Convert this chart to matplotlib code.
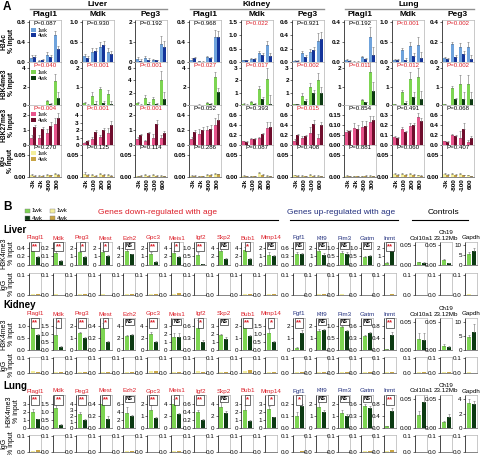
import numpy as np
import matplotlib.pyplot as plt

plt.rcParams['font.family'] = ['Liberation Sans', 'DejaVu Sans']

# ---------------- panel A data (3 genes x 4 positions per list) ----------------
a_tissues = ['Liver', 'Kidney', 'Lung']
a_genes = ['Plagl1', 'Mdk', 'Peg3']
a_marks = ['H3Ac', 'H3K4me3', 'H3K27me3', 'IgG']
plagl1_pos = ['-3k', '-2k', '-800', '300']
mdk_pos = ['-2k', '-100', '200', '800']
peg3_pos = ['-3k', '-800', '-100', '600']

liver_ac_1wk = [[0.08, 0.03, 0.15, 0.55], [0.15, 0.24, 0.38, 0.25], [0.15, 0.2, 0.12, 0.9]]
liver_ac_4wk = [[0.1, 0.04, 0.1, 0.26], [0.1, 0.28, 0.42, 0.2], [0.05, 0.1, 0.08, 0.75]]
liver_ac_err = [[0.06, 0.02, 0.05, 0.07], [0.05, 0.1, 0.12, 0.1], [0.1, 0.1, 0.05, 0.4]]
liver_k4_1wk = [[0.02, 0.02, 0.4, 2.6], [0.12, 0.5, 0.85, 0.6], [0.3, 1.2, 1.05, 4.0]]
liver_k4_4wk = [[0.01, 0.01, 0.1, 0.75], [0.02, 0.05, 0.1, 0.06], [0.02, 0.1, 0.1, 1.0]]
liver_k4_err = [[0.01, 0.01, 0.1, 0.8], [0.05, 0.2, 0.15, 0.2], [0.2, 0.4, 0.3, 1.5]]
liver_k27_1wk = [[0.5, 0.5, 0.8, 1.45], [0.3, 0.8, 1.1, 1.6], [0.4, 0.25, 0.45, 0.45]]
liver_k27_4wk = [[1.2, 1.05, 1.3, 1.85], [0.55, 1.8, 2.0, 2.7], [0.65, 0.8, 1.45, 0.8]]
liver_k27_err = [[0.15, 0.2, 0.3, 0.4], [0.1, 0.3, 0.3, 0.7], [0.15, 0.1, 0.3, 0.2]]
liver_igg_1wk = [[0.004, 0.003, 0.005, 0.006], [0.007, 0.004, 0.006, 0.004], [0.002, 0.004, 0.005, 0.003]]
liver_igg_4wk = [[0.003, 0.003, 0.004, 0.005], [0.004, 0.003, 0.004, 0.003], [0.003, 0.002, 0.003, 0.002]]
liver_igg_err = [[0.002, 0.001, 0.002, 0.003], [0.004, 0.002, 0.003, 0.002], [0.001, 0.002, 0.002, 0.001]]

kidney_ac_1wk = [[0.05, 0.02, 0.1, 0.5], [0.06, 0.1, 0.35, 0.65], [0.02, 0.13, 0.15, 0.31]]
kidney_ac_4wk = [[0.08, 0.01, 0.08, 0.5], [0.07, 0.12, 0.28, 0.22], [0.02, 0.08, 0.18, 0.35]]
kidney_ac_err = [[0.03, 0.01, 0.03, 0.15], [0.02, 0.05, 0.05, 0.15], [0.01, 0.03, 0.05, 0.12]]
kidney_k4_1wk = [[0.02, 0.05, 0.25, 3.0], [0.1, 0.25, 1.3, 2.1], [0.05, 0.75, 1.5, 2.05]]
kidney_k4_4wk = [[0.01, 0.01, 0.15, 1.4], [0.02, 0.05, 0.45, 0.12], [0.1, 0.3, 1.0, 0.95]]
kidney_k4_err = [[0.01, 0.02, 0.1, 0.6], [0.05, 0.1, 0.25, 0.9], [0.02, 0.2, 0.3, 0.6]]
kidney_k27_1wk = [[0.08, 0.15, 0.2, 0.27], [0.08, 0.12, 0.14, 0.35], [0.08, 0.15, 0.25, 0.15]]
kidney_k27_4wk = [[0.18, 0.2, 0.22, 0.34], [0.07, 0.13, 0.22, 0.37], [0.2, 0.18, 0.42, 0.4]]
kidney_k27_err = [[0.03, 0.06, 0.06, 0.1], [0.01, 0.02, 0.03, 0.12], [0.04, 0.03, 0.12, 0.08]]
kidney_igg_1wk = [[0.003, 0.002, 0.004, 0.007], [0.003, 0.002, 0.008, 0.003], [0.004, 0.003, 0.004, 0.003]]
kidney_igg_4wk = [[0.003, 0.002, 0.005, 0.006], [0.002, 0.002, 0.004, 0.002], [0.003, 0.002, 0.003, 0.002]]
kidney_igg_err = [[0.001, 0.001, 0.002, 0.002], [0.001, 0.001, 0.003, 0.001], [0.001, 0.001, 0.002, 0.001]]

lung_ac_1wk = [[0.02, 0.005, 0.05, 0.25], [0.05, 0.3, 0.4, 0.42], [0.04, 0.18, 0.15, 0.15]]
lung_ac_4wk = [[0.01, 0.003, 0.03, 0.07], [0.05, 0.06, 0.15, 0.1], [0.03, 0.05, 0.08, 0.03]]
lung_ac_err = [[0.01, 0.005, 0.01, 0.1], [0.02, 0.05, 0.1, 0.2], [0.01, 0.02, 0.04, 0.05]]
lung_k4_1wk = [[0.01, 0.01, 0.28, 1.8], [0.05, 0.72, 1.42, 1.52], [0.05, 0.95, 1.15, 1.15]]
lung_k4_4wk = [[0.005, 0.005, 0.15, 0.75], [0.01, 0.12, 0.45, 0.35], [0.01, 0.3, 0.3, 0.3]]
lung_k4_err = [[0.01, 0.01, 0.05, 0.6], [0.02, 0.1, 0.35, 0.5], [0.02, 0.1, 0.5, 0.5]]
lung_k27_1wk = [[0.065, 0.085, 0.09, 0.115], [0.08, 0.16, 0.19, 0.28], [0.08, 0.21, 0.14, 0.06]]
lung_k27_4wk = [[0.07, 0.08, 0.095, 0.125], [0.075, 0.13, 0.2, 0.24], [0.07, 0.18, 0.32, 0.15]]
lung_k27_err = [[0.01, 0.025, 0.03, 0.03], [0.01, 0.02, 0.03, 0.04], [0.01, 0.02, 0.15, 0.04]]
lung_igg_1wk = [[0.003, 0.002, 0.002, 0.003], [0.006, 0.006, 0.006, 0.004], [0.006, 0.006, 0.006, 0.004]]
lung_igg_4wk = [[0.002, 0.002, 0.003, 0.002], [0.005, 0.005, 0.005, 0.003], [0.005, 0.005, 0.004, 0.002]]
lung_igg_err = [[0.001, 0.001, 0.001, 0.001], [0.002, 0.002, 0.002, 0.001], [0.002, 0.002, 0.002, 0.001]]

liver_p = [['P=0.087', 'P=0.930', 'P=0.192'], ['P=0.040', 'P<0.001', 'P<0.001'],
           ['P=0.004', 'P<0.001', 'P<0.001'], ['P=0.270', 'P=0.125', 'P=0.114']]
kidney_p = [['P=0.968', 'P=0.022', 'P=0.921'], ['P=0.027', 'P=0.017', 'P=0.002'],
            ['P=0.052', 'P=0.393', 'P=0.015'], ['P=0.286', 'P=0.087', 'P=0.408']]
lung_p = [['P=0.192', 'P<0.001', 'P=0.002'], ['P=0.011', 'P=0.012', 'P=0.002'],
          ['P=0.854', 'P=0.491', 'P=0.068'], ['P=0.881', 'P=0.060', 'P=0.407']]

# top tick and tick step per mark (rows) and gene (cols)
liver_top = [[0.8, 1.0, 2], [4, 2, 6], [2, 4, 2], [0.05, 0.05, 0.05]]
liver_step = [[0.4, 0.5, 1], [2, 1, 2], [1, 1, 1], [0.05, 0.05, 0.05]]
kidney_top = [[0.8, 1.5, 0.6], [4, 3, 3], [0.4, 0.6, 0.6], [0.05, 0.05, 0.05]]
kidney_step = [[0.4, 0.5, 0.2], [2, 1, 1], [0.2, 0.2, 0.2], [0.05, 0.05, 0.05]]
lung_top = [[0.4, 1.0, 0.4], [2, 2, 2], [0.15, 0.3, 0.6], [0.05, 0.05, 0.05]]
lung_step = [[0.2, 0.5, 0.2], [1, 1, 1], [0.05, 0.1, 0.2], [0.05, 0.05, 0.05]]

# ---------------- panel B data (19 genes per list) ----------------
b_down = ['Plagl1', 'Mdk', 'Peg3', 'Mest', 'Ezh2', 'Gpc3', 'Meis1', 'Igf2', 'Skp2', 'Bub1', 'Mmp14']
b_up = ['Fgf1', 'Klf9', 'Pim3', 'Gatm', 'Inmt']
b_ctrl = ['Col10a1', 'Ch19\n23.12Mb', 'Gapdh']

liver_b_1wk = [0.34, 0.14, 1.5, 1.55, 3.2, 1.3, 2.8, 0.6, 3.2, 3.5, 1.2, 0.38, 1.7, 0.72, 0.48, 0.25, 0.007, 0.012, 5.5]
liver_b_4wk = [0.19, 0.05, 0.9, 1.0, 2.6, 0.4, 1.9, 0.05, 1.4, 1.3, 1.0, 0.38, 1.2, 0.65, 0.5, 1.6, 0.006, 0.004, 7.2]
liver_b_err1 = [0.02, 0.02, 0.2, 0.2, 0.8, 0.2, 0.4, 0.15, 1.2, 0.8, 0.3, 0.08, 0.3, 0.1, 0.05, 0.05, 0.001, 0.002, 1.0]
liver_b_err4 = [0.02, 0.01, 0.15, 0.2, 0.1, 0.05, 0.2, 0.02, 0.3, 0.3, 0.2, 0.05, 0.2, 0.1, 0.06, 0.2, 0.001, 0.001, 1.5]
liver_b_top = [0.4, 0.2, 2, 2, 4, 2, 4, 1.0, 4, 4, 2, 0.6, 2, 1.0, 1.0, 2, 0.05, 0.05, 10]
liver_b_step = [0.2, 0.1, 1, 1, 2, 1, 2, 0.5, 2, 2, 1, 0.3, 1, 0.5, 0.5, 1, 0.05, 0.05, 5]
liver_b_sig = ['**', '**', '*', '*', 'NS', '**', '*', '**', 'NS', '*', 'NS', 'NS', 'NS', 'NS', 'NS', '**', '', '', '']
liver_b_igg1 = [0.004, 0.003, 0.003, 0.003, 0.006, 0.003, 0.005, 0.002, 0.002, 0.003, 0.003, 0.002, 0.004, 0.003, 0.002, 0.002, 0.002, 0.002, 0.003]
liver_b_igg4 = [0.004, 0.002, 0.003, 0.002, 0.005, 0.003, 0.008, 0.002, 0.002, 0.003, 0.003, 0.002, 0.003, 0.002, 0.002, 0.003, 0.002, 0.002, 0.002]

kidney_b_1wk = [0.95, 0.95, 1.45, 0.37, 2.4, 2.7, 1.6, 0.55, 1.9, 1.9, 1.1, 0.2, 1.6, 0.95, 0.35, 0.02, 0.02, 0.008, 4.7]
kidney_b_4wk = [0.62, 0.18, 1.0, 0.13, 2.5, 1.3, 1.6, 0.2, 1.4, 1.2, 0.5, 1.4, 1.7, 0.8, 0.43, 0.5, 0.018, 0.006, 6.3]
kidney_b_err1 = [0.05, 0.5, 0.1, 0.08, 0.1, 0.3, 0.6, 0.2, 0.1, 0.1, 0.2, 0.05, 0.2, 0.05, 0.03, 0.01, 0.01, 0.003, 0.8]
kidney_b_err4 = [0.05, 0.05, 0.1, 0.03, 0.2, 0.2, 0.6, 0.05, 0.3, 0.1, 0.05, 0.3, 0.1, 0.05, 0.03, 0.1, 0.012, 0.002, 3.0]
kidney_b_top = [1.0, 1.5, 2, 0.4, 4, 4, 3, 0.6, 3, 2, 1.5, 2, 2, 1.0, 0.6, 0.8, 0.05, 0.05, 10]
kidney_b_step = [0.5, 0.5, 1, 0.2, 2, 2, 1, 0.3, 1, 1, 0.5, 1, 1, 0.5, 0.3, 0.4, 0.05, 0.05, 5]
kidney_b_sig = ['**', '*', '**', '*', 'NS', '**', 'NS', '*', 'NS', '**', '*', '**', 'NS', 'NS', 'NS', '**', '', '', '']
kidney_b_igg1 = [0.012, 0.006, 0.004, 0.01, 0.004, 0.012, 0.008, 0.012, 0.008, 0.012, 0.008, 0.006, 0.004, 0.006, 0.008, 0.006, 0.01, 0.004, 0.004]
kidney_b_igg4 = [0.01, 0.004, 0.004, 0.006, 0.004, 0.015, 0.006, 0.005, 0.006, 0.02, 0.006, 0.008, 0.006, 0.005, 0.006, 0.01, 0.006, 0.004, 0.003]

lung_b_1wk = [2.0, 1.25, 2.3, 0.4, 3.8, 1.5, 4.0, 0.4, 3.4, 2.2, 2.3, 0.1, 1.75, 1.2, 0.55, 0.05, 0.022, 0.01, 3.5]
lung_b_4wk = [1.05, 0.2, 1.3, 0.15, 3.0, 0.85, 2.3, 0.2, 2.5, 0.8, 1.3, 0.18, 1.3, 0.95, 0.5, 0.55, 0.045, 0.02, 3.4]
lung_b_err1 = [0.3, 0.25, 0.3, 0.06, 1.3, 0.4, 0.8, 0.05, 1.0, 0.6, 0.4, 0.03, 0.6, 0.3, 0.05, 0.02, 0.008, 0.003, 0.6]
lung_b_err4 = [0.1, 0.03, 0.1, 0.05, 0.2, 0.05, 0.2, 0.02, 0.3, 0.15, 0.1, 0.02, 0.2, 0.2, 0.05, 0.1, 0.015, 0.005, 0.3]
lung_b_top = [3, 1.5, 4, 0.4, 6, 2, 4, 0.6, 4, 3, 3, 0.2, 2, 2, 0.6, 0.8, 0.05, 0.05, 4]
lung_b_step = [1, 0.5, 1, 0.2, 2, 1, 2, 0.2, 2, 1, 1, 0.1, 1, 1, 0.3, 0.4, 0.05, 0.05, 2]
lung_b_sig = ['**', '**', '**', '**', 'NS', '**', '*', '**', 'NS', '*', '*', '*', 'NS', 'NS', 'NS', '**', '', '', '']
lung_b_igg1 = [0.008, 0.003, 0.003, 0.003, 0.004, 0.003, 0.004, 0.003, 0.003, 0.003, 0.003, 0.003, 0.003, 0.003, 0.004, 0.004, 0.003, 0.003, 0.003]
lung_b_igg4 = [0.01, 0.003, 0.003, 0.003, 0.004, 0.003, 0.008, 0.003, 0.002, 0.003, 0.003, 0.004, 0.003, 0.003, 0.006, 0.01, 0.003, 0.003, 0.003]

# ---------------- style ----------------
C_AC = ('#6fa3dc', '#14349a')
C_K4 = ('#7dd552', '#0c3a12')
C_K27 = ('#e8548c', '#6e0d2c')
C_IGG = ('#f4ef9c', '#c8a444')
RED = '#dc1e28'
BLUE = '#23307e'
GREY = '#b4b4b4'

W, H = 480, 455
fig = plt.figure(figsize=(W / 100, H / 100), dpi=100)


def add_ax(x, y, w, h):
    return fig.add_axes([x / W, 1 - (y + h) / H, w / W, h / H])


def ftext(x, y, s, **kw):
    fig.text(x / W, 1 - y / H, s, **kw)


def decimals(step):
    if step >= 1:
        return 0
    if abs(step * 10 - round(step * 10)) < 1e-9:
        return 1
    return 2


def style_ax(ax, top, step, headroom, bold=False, fs=4.5):
    ticks = np.arange(0, top + step / 2, step)
    d = decimals(step)
    ax.set_yticks(ticks)
    ax.set_yticklabels([f'{t:.{d}f}' for t in ticks],
                       fontweight='bold' if bold else 'normal')
    ax.set_ylim(0, top * headroom)
    ax.set_xticks([])
    ax.tick_params(axis='y', labelsize=fs, length=1.5, width=0.4, pad=0.8)
    for s in ['top', 'right']:
        ax.spines[s].set_color(GREY)
        ax.spines[s].set_linewidth(0.5)
    ax.spines['bottom'].set_color('#555555')
    ax.spines['bottom'].set_linewidth(0.5)
    ax.spines['left'].set_linewidth(0.5)


ERR = dict(fmt='none', ecolor='#707070', elinewidth=0.4, capsize=0.8, capthick=0.4)

# ---------------- panel A ----------------
a_x = [[29, 82, 135], [189, 241, 292], [344, 392, 442]]
a_rows = [(20, 42, 1.05, C_AC), (62, 43, 1.17, C_K4), (105, 40, 1.35, C_K27), (145, 32, 1.45, C_IGG)]
a_data = {
    'Liver': ([liver_ac_1wk, liver_k4_1wk, liver_k27_1wk, liver_igg_1wk],
              [liver_ac_4wk, liver_k4_4wk, liver_k27_4wk, liver_igg_4wk],
              [liver_ac_err, liver_k4_err, liver_k27_err, liver_igg_err],
              liver_p, liver_top, liver_step),
    'Kidney': ([kidney_ac_1wk, kidney_k4_1wk, kidney_k27_1wk, kidney_igg_1wk],
               [kidney_ac_4wk, kidney_k4_4wk, kidney_k27_4wk, kidney_igg_4wk],
               [kidney_ac_err, kidney_k4_err, kidney_k27_err, kidney_igg_err],
               kidney_p, kidney_top, kidney_step),
    'Lung': ([lung_ac_1wk, lung_k4_1wk, lung_k27_1wk, lung_igg_1wk],
             [lung_ac_4wk, lung_k4_4wk, lung_k27_4wk, lung_igg_4wk],
             [lung_ac_err, lung_k4_err, lung_k27_err, lung_igg_err],
             lung_p, lung_top, lung_step),
}
a_pos = [plagl1_pos, mdk_pos, peg3_pos]
ylabels_a = ['H3Ac\n% Input', 'H3K4me3\n% Input', 'H3K27me3\n% Input', 'IgG\n% Input']
ylabel_x = [-0.43, -0.43, -0.43, -0.47]

ftext(3, 7, 'A', fontsize=8.5, fontweight='bold', va='center')
A_W = 32
pair = np.arange(4) * 2.5
for ti, tissue in enumerate(a_tissues):
    v1s, v4s, errs, pvals, tops, steps = a_data[tissue]
    xs = a_x[ti]
    ftext((xs[0] + xs[2] + A_W) / 2, 4.5, tissue, fontsize=6, fontweight='bold', ha='center', va='center')
    fig.add_artist(plt.Line2D([(xs[0] + 1) / W, (xs[2] + A_W) / W], [1 - 9 / H] * 2,
                              color='#909090', lw=1.0))
    for gi, gene in enumerate(a_genes):
        ftext(xs[gi] + A_W / 2, 15, gene, fontsize=6, fontweight='bold', ha='center', va='center')
        for ri, (y0, h, hr, cols) in enumerate(a_rows):
            ax = add_ax(xs[gi], y0, A_W, h)
            v1 = v1s[ri][gi]
            v4 = v4s[ri][gi]
            e = errs[ri][gi]
            b1 = ax.bar(pair, v1, width=1.0, color=cols[0], edgecolor='none')
            b4 = ax.bar(pair + 1, v4, width=1.0, color=cols[1], edgecolor='none')
            ax.errorbar(pair, v1, yerr=[np.zeros(4), e], **ERR)
            ax.errorbar(pair + 1, v4, yerr=[np.zeros(4), np.array(e) * 0.8], **ERR)
            ax.set_xlim(-0.8, 9.3)
            style_ax(ax, tops[ri][gi], steps[ri][gi], hr, bold=True, fs=4.6)
            p = pvals[ri][gi]
            pc = RED if float(p[2:]) < 0.05 else 'black'
            ax.text(0.5, 0.985, p, transform=ax.transAxes, ha='center', va='top',
                    fontsize=4.4, color=pc)
            if ti == 0 and gi == 0:
                ax.set_ylabel(ylabels_a[ri], fontsize=4.8, fontweight='bold',
                              linespacing=1.1)
                ax.yaxis.set_label_coords(ylabel_x[ri], 0.5)
                ax.legend([b1, b4], ['1wk', '4wk'], loc='upper left', bbox_to_anchor=(0.0, 0.86),
                          fontsize=4, frameon=False, handlelength=0.9, handleheight=0.7,
                          handletextpad=0.3, labelspacing=0.15, borderpad=0.2, borderaxespad=0.1)
            if ri == 3:
                ax.set_xticks(pair + 0.5)
                ax.set_xticklabels(a_pos[gi], rotation=90, fontsize=4.6, fontweight='bold')
                ax.tick_params(axis='x', length=0, pad=1)

# ---------------- panel B ----------------
ftext(3, 207, 'B', fontsize=8.5, fontweight='bold', va='center')
# legend
for lx, c1, c4 in [(25, C_K4[0], C_K4[1]), (50, C_IGG[0], C_IGG[1])]:
    for ly, c, lab in [(211, c1, '1wk'), (218, c4, '4wk')]:
        fig.add_artist(plt.Rectangle((lx / W, 1 - (ly + 2) / H), 5 / W, 4 / H, color=c,
                                     ec='#808080', lw=0.3))
        ftext(lx + 6.5, ly, lab, fontsize=4.4, va='center')

ftext(157, 212, 'Genes down-regulated with age', fontsize=6, color=RED, ha='center', va='center')
ftext(341, 212, 'Genes up-regulated with age', fontsize=6, color=BLUE, ha='center', va='center')
ftext(443, 212, 'Controls', fontsize=6, color='black', ha='center', va='center')
for x0, x1 in [(25, 278), (290, 398), (412, 468)]:
    fig.add_artist(plt.Line2D([x0 / W, x1 / W], [1 - 219.5 / H] * 2, color='black', lw=0.8))

b_genes = b_down + b_up + b_ctrl
b_colors = [RED] * len(b_down) + [BLUE] * len(b_up) + ['black'] * len(b_ctrl)
b_x = [29 + 23.6 * i for i in range(len(b_down))] + \
      [293 + 22.7 * i for i in range(len(b_up))] + \
      [415 + 25 * i for i in range(len(b_ctrl))]
B_W = 12

b_tissues = [
    ('Liver', 230, (242, 23), (273, 22), liver_b_1wk, liver_b_4wk, liver_b_err1, liver_b_err4,
     liver_b_top, liver_b_step, liver_b_sig, liver_b_igg1, liver_b_igg4),
    ('Kidney', 305, (318, 32), (357, 16), kidney_b_1wk, kidney_b_4wk, kidney_b_err1, kidney_b_err4,
     kidney_b_top, kidney_b_step, kidney_b_sig, kidney_b_igg1, kidney_b_igg4),
    ('Lung', 386, (395, 33), (435, 17), lung_b_1wk, lung_b_4wk, lung_b_err1, lung_b_err4,
     lung_b_top, lung_b_step, lung_b_sig, lung_b_igg1, lung_b_igg4),
]

for (tissue, ty, (ky, kh), (iy, ih), v1, v4, e1, e4, tops, steps, sigs, g1, g4) in b_tissues:
    ftext(3, ty, tissue, fontsize=7, fontweight='bold', va='center')
    for i, gene in enumerate(b_genes):
        x = b_x[i]
        ftext(min(x + B_W / 2, 471.5), ky - 1.5, gene, fontsize=4.5, color=b_colors[i],
              ha='center', va='bottom', linespacing=1.1)
        ax = add_ax(x, ky, B_W, kh)
        ax.bar([0, 1], [v1[i], v4[i]], width=0.8, color=C_K4, edgecolor='none')
        ax.errorbar([0, 1], [v1[i], v4[i]], yerr=[[0, 0], [e1[i], e4[i]]], **ERR)
        ax.set_xlim(-0.7, 1.7)
        hr = 1.35 if sigs[i] else 1.15
        style_ax(ax, tops[i], steps[i], hr)
        if sigs[i]:
            sc = 'black' if sigs[i] == 'NS' else RED
            sfs = 3.6 if sigs[i] == 'NS' else 5.5
            ax.text(0.5, 0.955, sigs[i], transform=ax.transAxes, ha='center', va='top',
                    fontsize=sfs, color=sc, fontweight='bold',
                    bbox=dict(boxstyle='square,pad=0.15', fc='white', ec='black', lw=0.4))
        if i == 0:
            ax.set_ylabel('H3K4me3\n% input', fontsize=5, labelpad=1.5, linespacing=1.2)

        ax = add_ax(x, iy, B_W, ih)
        ax.bar([0, 1], [g1[i], g4[i]], width=0.8, color=C_IGG, edgecolor='none')
        ax.set_xlim(-0.7, 1.7)
        style_ax(ax, 0.1, 0.1, 1.08)
        if i == 0:
            ax.set_ylabel('IgG\n% input', fontsize=5, labelpad=1.5, linespacing=1.2)

fig.savefig('out.png', dpi=100)
